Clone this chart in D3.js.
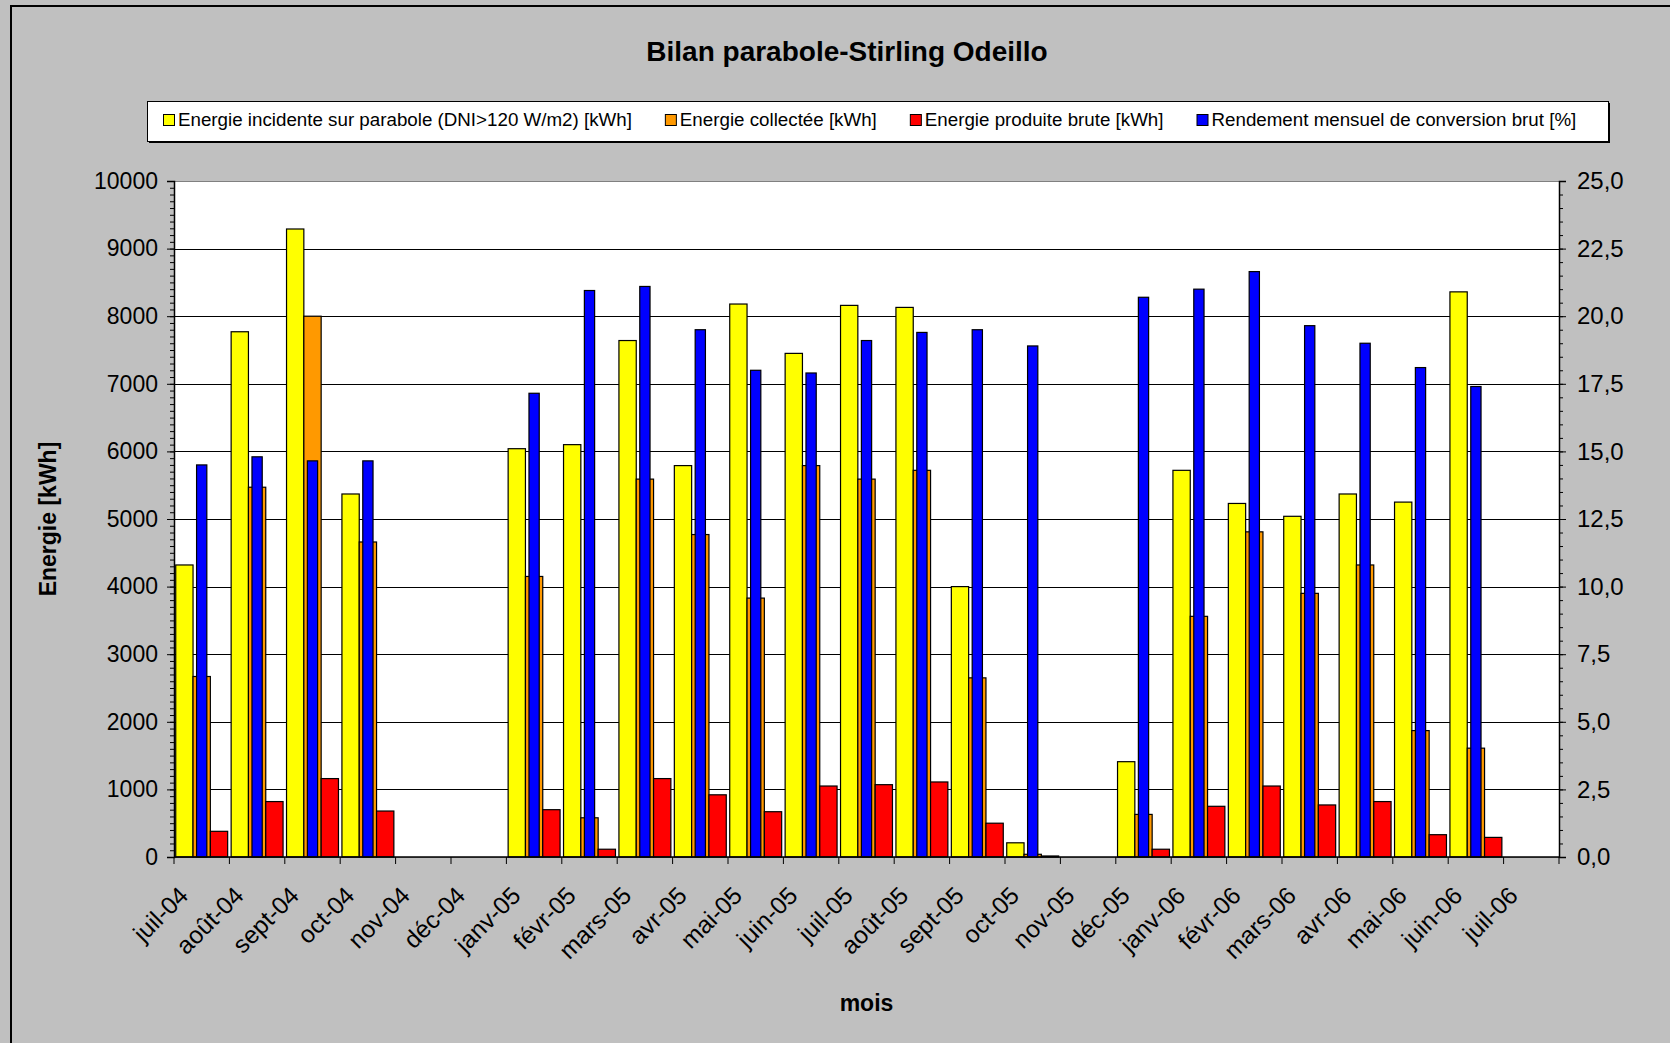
<!DOCTYPE html>
<html>
<head>
<meta charset="utf-8">
<script src="https://cdn.jsdelivr.net/npm/d3@7"></script>
<style>
  html, body { margin: 0; padding: 0; background: #c0c0c0; }
  svg { display: block; }
  text { font-family: "Liberation Sans", Arial, sans-serif; fill: #000; }
</style>
</head>
<body>
<svg id="chart" width="1670" height="1043"></svg>
<script>
// Months of the Stirling dish monitoring campaign
const categories = ["juil-04","août-04","sept-04","oct-04","nov-04","déc-04",
  "janv-05","févr-05","mars-05","avr-05","mai-05","juin-05","juil-05","août-05",
  "sept-05","oct-05","nov-05","déc-05","janv-06","févr-06","mars-06","avr-06",
  "mai-06","juin-06","juil-06"];

// Energie incidente sur parabole (DNI>120 W/m2) [kWh]
const incidentEnergy = [4320, 7770, 9290, 5370, null, null,
  6040, 6100, 7640, 5790, 8180, 7450, 8160, 8130,
  4000, 210, null, 1410, 5720, 5230, 5040, 5370,
  5250, 8360, null];

// Energie collectée [kWh]
const collectedEnergy = [2670, 5470, 8000, 4660, null, null,
  4150, 580, 5590, 4770, 3830, 5790, 5590, 5720,
  2650, 40, null, 630, 3560, 4810, 3900, 4320,
  1870, 1610, null];

// Energie produite brute [kWh]
const producedEnergy = [380, 820, 1160, 680, null, null,
  700, 115, 1160, 920, 670, 1050, 1070, 1110,
  500, 15, null, 115, 750, 1050, 770, 820,
  330, 290, null];

// Rendement mensuel de conversion brut [%]
const efficiency = [14.5, 14.8, 14.65, 14.65, null, null,
  17.15, 20.95, 21.1, 19.5, 18.0, 17.9, 19.1, 19.4,
  19.5, 18.9, null, 20.7, 21.0, 21.65, 19.65, 19.0,
  18.1, 17.4, null];

const seriesNames = [
  "Energie incidente sur parabole (DNI>120 W/m2) [kWh]",
  "Energie collectée [kWh]",
  "Energie produite brute [kWh]",
  "Rendement mensuel de conversion brut [%]"
];
const seriesColors = ["#ffff00", "#ff9900", "#ff0000", "#0000ff"];

const leftTicks = [0,1000,2000,3000,4000,5000,6000,7000,8000,9000,10000];
const rightTicks = [0,2.5,5,7.5,10,12.5,15,17.5,20,22.5,25];

const titleText = "Bilan parabole-Stirling Odeillo";
const yTitleText = "Energie [kWh]";
const xTitleText = "mois";

// ---- layout ----
const plot = { left: 174, right: 1559, top: 181, bottom: 857 };
const svg = d3.select("#chart");

// chart frame
svg.append("rect")
  .attr("x", 11).attr("y", 6).attr("width", 1700).attr("height", 1100)
  .attr("fill", "#c0c0c0").attr("stroke", "#000").attr("stroke-width", 2);

// plot area
svg.append("rect")
  .attr("x", plot.left).attr("y", plot.top)
  .attr("width", plot.right - plot.left).attr("height", plot.bottom - plot.top)
  .attr("fill", "#fff").attr("stroke", "#808080").attr("stroke-width", 1)
  .attr("shape-rendering", "crispEdges");

// ---- scales ----
const x = d3.scaleBand().domain(categories).range([plot.left, plot.right]).padding(0);
const yL = d3.scaleLinear().domain([0, 10000]).range([plot.bottom, plot.top]);
const yR = d3.scaleLinear().domain([0, 25]).range([plot.bottom, plot.top]);

const primaryKeys = ["incident", "collected", "produced"];
const xSub = d3.scaleBand().domain(primaryKeys).range([0, x.bandwidth()])
  .paddingInner(0).paddingOuter(0.1);
const xSec = d3.scaleBand().domain(["eff"]).range([0, x.bandwidth()])
  .paddingInner(0).paddingOuter(2.2);

// ---- gridlines ----
svg.append("g")
  .selectAll("line")
  .data(leftTicks.filter(t => t > 0 && t < 10000))
  .join("line")
  .attr("x1", plot.left).attr("x2", plot.right)
  .attr("y1", d => Math.round(yL(d)) + 0.5).attr("y2", d => Math.round(yL(d)) + 0.5)
  .attr("stroke", "#000").attr("stroke-width", 1);

// ---- bars ----
const primarySeries = [incidentEnergy, collectedEnergy, producedEnergy];
const barsG = svg.append("g").attr("stroke", "#000").attr("stroke-width", 1.2);

primarySeries.forEach((values, si) => {
  barsG.append("g")
    .attr("fill", seriesColors[si])
    .selectAll("rect")
    .data(categories.map((c, i) => ({ c, v: values[i] })).filter(d => d.v != null))
    .join("rect")
    .attr("x", d => x(d.c) + xSub(primaryKeys[si]))
    .attr("width", xSub.bandwidth())
    .attr("y", d => yL(d.v))
    .attr("height", d => yL(0) - yL(d.v));
});

// secondary-axis series drawn on top
barsG.append("g")
  .attr("fill", seriesColors[3])
  .selectAll("rect")
  .data(categories.map((c, i) => ({ c, v: efficiency[i] })).filter(d => d.v != null))
  .join("rect")
  .attr("x", d => x(d.c) + xSec("eff"))
  .attr("width", xSec.bandwidth())
  .attr("y", d => yR(d.v))
  .attr("height", d => yR(0) - yR(d.v));

// ---- axes ----
const fmtRight = d => d3.format(".1f")(d).replace(".", ",");

// left minor ticks
svg.append("g")
  .attr("transform", `translate(${plot.left},0)`)
  .call(d3.axisLeft(yL).tickValues(d3.range(0, 10001, 100)).tickSize(4).tickFormat(""))
  .call(g => g.select(".domain").remove());
// left major
svg.append("g")
  .attr("transform", `translate(${plot.left},0)`)
  .call(d3.axisLeft(yL).tickValues(leftTicks).tickSize(7).tickPadding(9).tickFormat(d3.format("d")))
  .call(g => g.selectAll("text").attr("font-size", 23).attr("font-family", "Liberation Sans, Arial, sans-serif"))
  .call(g => g.select(".domain").attr("stroke", "#000").attr("stroke-width", 1.5));

// right minor ticks
svg.append("g")
  .attr("transform", `translate(${plot.right},0)`)
  .call(d3.axisRight(yR).tickValues(d3.range(0, 25.001, 0.5)).tickSize(4).tickFormat(""))
  .call(g => g.select(".domain").remove());
// right major
svg.append("g")
  .attr("transform", `translate(${plot.right},0)`)
  .call(d3.axisRight(yR).tickValues(rightTicks).tickSize(7).tickPadding(11).tickFormat(fmtRight))
  .call(g => g.selectAll("text").attr("font-size", 24).attr("font-family", "Liberation Sans, Arial, sans-serif"))
  .call(g => g.select(".domain").attr("stroke", "#000").attr("stroke-width", 1.5));

// bottom axis: ticks between categories
const xAxisG = svg.append("g");
xAxisG.append("line")
  .attr("x1", plot.left).attr("x2", plot.right)
  .attr("y1", plot.bottom).attr("y2", plot.bottom)
  .attr("stroke", "#000").attr("stroke-width", 1.5);
xAxisG.selectAll("line.tick")
  .data(categories.map(c => x(c)).concat([x.range()[1]]))
  .join("line")
  .attr("class", "tick")
  .attr("x1", d => d).attr("x2", d => d)
  .attr("y1", plot.bottom).attr("y2", plot.bottom + 7)
  .attr("stroke", "#000").attr("stroke-width", 1);
xAxisG.selectAll("text")
  .data(categories)
  .join("text")
  .attr("transform", d => `translate(${x(d) + x.bandwidth() / 2 - 12},${plot.bottom + 40}) rotate(-45)`)
  .attr("text-anchor", "end")
  .attr("font-size", 24.5)
  .text(d => d);

// ---- titles ----
svg.append("text")
  .attr("x", 847).attr("y", 61)
  .attr("text-anchor", "middle")
  .attr("font-size", 28).attr("font-weight", "bold")
  .text(titleText);

svg.append("text")
  .attr("transform", `translate(56,${(plot.top + plot.bottom) / 2}) rotate(-90)`)
  .attr("text-anchor", "middle")
  .attr("font-size", 23).attr("font-weight", "bold")
  .text(yTitleText);

svg.append("text")
  .attr("x", (plot.left + plot.right) / 2).attr("y", 1011)
  .attr("text-anchor", "middle")
  .attr("font-size", 23).attr("font-weight", "bold")
  .text(xTitleText);

// ---- legend ----
const legend = { left: 147, right: 1608, top: 101, bottom: 141 };
svg.append("rect")
  .attr("x", legend.left + 2).attr("y", legend.top + 2)
  .attr("width", legend.right - legend.left).attr("height", legend.bottom - legend.top)
  .attr("fill", "#000");
svg.append("rect")
  .attr("x", legend.left + 0.5).attr("y", legend.top + 0.5)
  .attr("width", legend.right - legend.left).attr("height", legend.bottom - legend.top)
  .attr("fill", "#fff").attr("stroke", "#000").attr("stroke-width", 1);

let lx = legend.left + 16;
const ly = (legend.top + legend.bottom) / 2;
seriesNames.forEach((name, i) => {
  svg.append("rect")
    .attr("x", lx + 0.5).attr("y", ly - 6.5)
    .attr("width", 11).attr("height", 11)
    .attr("fill", seriesColors[i]).attr("stroke", "#000").attr("stroke-width", 1);
  const t = svg.append("text")
    .attr("x", lx + 15).attr("y", ly + 5)
    .attr("font-size", 18.75)
    .text(name);
  lx += 15 + t.node().getComputedTextLength() + 33;
});
</script>
</body>
</html>
